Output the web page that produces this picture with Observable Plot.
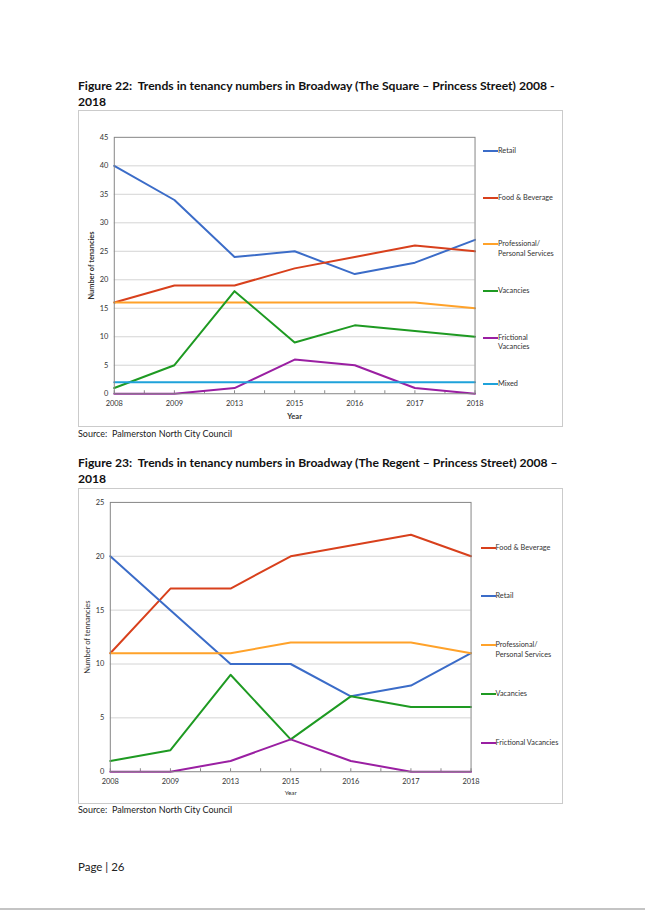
<!DOCTYPE html>
<html><head><meta charset="utf-8">
<script src="https://cdn.jsdelivr.net/npm/d3@7"></script>
<script src="https://cdn.jsdelivr.net/npm/@observablehq/plot@0.6"></script>
<style>
body{margin:0;background:#fff;font-family:Lato,"Open Sans",sans-serif;}
#page{position:relative;width:645px;height:912px;overflow:hidden;background:#fff;}
.title{position:absolute;left:78px;font-weight:700;font-size:12.15px;line-height:16px;color:#111;white-space:nowrap;}
.box{position:absolute;left:78px;width:485px;border:1px solid #cbcbcb;box-sizing:border-box;}
.box svg{position:absolute;left:-1px;top:-1px;}
.src{position:absolute;left:78px;font-size:9px;line-height:12px;color:#222;white-space:nowrap;}
.leg{position:absolute;font-size:7.3px;color:#333;line-height:9.6px;white-space:nowrap;}
.leg .sw{position:absolute;width:15px;height:2px;top:4px;}
.pg{position:absolute;left:78px;top:859px;font-size:11.5px;line-height:15px;color:#222;}
.rule{position:absolute;left:0;right:0;top:908px;height:2px;background:#c4c4c4;}
</style></head>
<body><div id="page"></div>
<script>
// ---------- data ----------
const years = ["2008","2009","2013","2015","2016","2017","2018"];

// Figure 22: The Square – Princess Street
const fig22Names = ["Retail","Food & Beverage","Professional/ Personal Services","Vacancies","Frictional Vacancies","Mixed"];
const fig22Retail = [40,34,24,25,21,23,27];
const fig22Food = [16,19,19,22,24,26,25];
const fig22Professional = [16,16,16,16,16,16,15];
const fig22Vacancies = [1,5,18,9,12,11,10];
const fig22Frictional = [0,0,1,6,5,1,0];
const fig22Mixed = [2,2,2,2,2,2,2];
const fig22Legend = [["Retail"],["Food & Beverage"],["Professional/","Personal Services"],["Vacancies"],["Frictional","Vacancies"],["Mixed"]];

// Figure 23: The Regent – Princess Street
const fig23Names = ["Food & Beverage","Retail","Professional/ Personal Services","Vacancies","Frictional Vacancies"];
const fig23Food = [11,17,17,20,21,22,20];
const fig23Retail = [20,15,10,10,7,8,11];
const fig23Professional = [11,11,11,12,12,12,11];
const fig23Vacancies = [1,2,9,3,7,6,6];
const fig23Frictional = [0,0,1,3,1,0,0];
const fig23Legend = [["Food & Beverage"],["Retail"],["Professional/","Personal Services"],["Vacancies"],["Frictional Vacancies"]];

const colorOf = {
  "Retail":"#3b6cc8",
  "Food & Beverage":"#d8401c",
  "Professional/ Personal Services":"#ffa22a",
  "Vacancies":"#1e9a22",
  "Frictional Vacancies":"#9a1fa2",
  "Mixed":"#1fa2da"
};

function rows(names, arrays){
  const out=[];
  names.forEach((n,k)=>arrays[k].forEach((v,i)=>out.push({name:n,i,year:years[i],value:v})));
  return out;
}

const page=document.getElementById("page");
function add(cls, html, style){const d=document.createElement("div");d.className=cls;d.innerHTML=html;Object.assign(d.style,style||{});page.appendChild(d);return d;}

function chart(cfg){
  const data=rows(cfg.names,cfg.arrays);
  const idx=d3.range(years.length);
  const half=d3.range(0,years.length-0.99,0.5);
  const svg=Plot.plot({
    width:cfg.w,height:cfg.h,
    marginLeft:cfg.ml,marginRight:cfg.mr,marginTop:cfg.mt,marginBottom:cfg.mb,
    style:{fontFamily:"Lato, 'Open Sans', sans-serif",fontSize:"7.5px",color:"#333",background:"transparent",overflow:"visible"},
    x:{type:"linear",domain:[0,years.length-1]},
    y:{domain:[0,cfg.yMax]},
    color:{domain:cfg.names,range:cfg.names.map(n=>colorOf[n])},
    marks:[
      Plot.gridY(d3.range(5,cfg.yMax,5),{stroke:"#d4d4d4",strokeOpacity:1}),
      Plot.axisY(d3.range(0,cfg.yMax+1,5),{tickSize:0,tickPadding:6,label:cfg.yLabel,labelAnchor:"center",labelArrow:"none",labelOffset:cfg.ylo}),
      Plot.axisX(idx,{tickSize:0,tickPadding:7,tickFormat:i=>years[i],label:"Year",labelAnchor:"center",labelArrow:"none",labelOffset:cfg.xlo}),
      Plot.axisX(half,{tickSize:3,dy:-3,tickFormat:()=>"",label:null,stroke:"#8a8a8a"}),
      Plot.lineY(data,{x:"i",y:"value",z:"name",stroke:"name",strokeWidth:2}),
      Plot.frame({stroke:"#858585"})
    ]
  });
  svg.querySelectorAll("[aria-label='y-axis label'] text").forEach(t=>{t.style.fontWeight=cfg.yBold?"700":"400";t.style.fontSize=cfg.yLabelSize;});
  svg.querySelectorAll("[aria-label='x-axis label'] text").forEach(t=>{t.style.fontWeight=cfg.xBold?"700":"400";t.style.fontSize=cfg.xLabelSize;});
  return svg;
}

function legend(items, names, x, yFirst, yLast){
  const step=(yLast-yFirst)/(items.length-1);
  items.forEach((lines,k)=>{
    add("leg",`<div class="sw" style="left:${-15}px;background:${colorOf[names[k]]}"></div>`+lines.join("<br>"),
      {left:(x+15)+"px",top:(yFirst+k*step-4.8)+"px"});
  });
}

// ---------- Figure 22 ----------
add("title","Figure 22:&nbsp; Trends in tenancy numbers in Broadway (The Square – Princess Street) 2008 -<br>2018",{top:"78px"});
const box1=add("box","",{top:"110px",height:"317px"});
box1.appendChild(chart({
  names:fig22Names,
  arrays:[fig22Retail,fig22Food,fig22Professional,fig22Vacancies,fig22Frictional,fig22Mixed],
  w:486,h:318,ml:36,mr:87,mt:27,mb:33,yMax:45,
  yLabel:"Number of tenancies",ylo:26,yBold:true,yLabelSize:"7.4px",
  xlo:25,xBold:true,xLabelSize:"7.6px"
}));
legend(fig22Legend,fig22Names,483,151,384);
add("src","Source:&nbsp; Palmerston North City Council",{top:"428px"});

// ---------- Figure 23 ----------
add("title","Figure 23:&nbsp; Trends in tenancy numbers in Broadway (The Regent – Princess Street) 2008 –<br>2018",{top:"455px"});
const box2=add("box","",{top:"488px",height:"316px"});
box2.appendChild(chart({
  names:fig23Names,
  arrays:[fig23Food,fig23Retail,fig23Professional,fig23Vacancies,fig23Frictional],
  w:486,h:317,ml:32,mr:91,mt:14,mb:32,yMax:25,
  yLabel:"Number of tennancies",ylo:26,yBold:false,yLabelSize:"7.6px",
  xlo:23,xBold:false,xLabelSize:"6.4px"
}));
legend(fig23Legend,fig23Names,480.5,547.3,742.7);
add("src","Source:&nbsp; Palmerston North City Council",{top:"804px"});

add("pg","Page | 26");
add("rule","");
</script>
</body></html>
